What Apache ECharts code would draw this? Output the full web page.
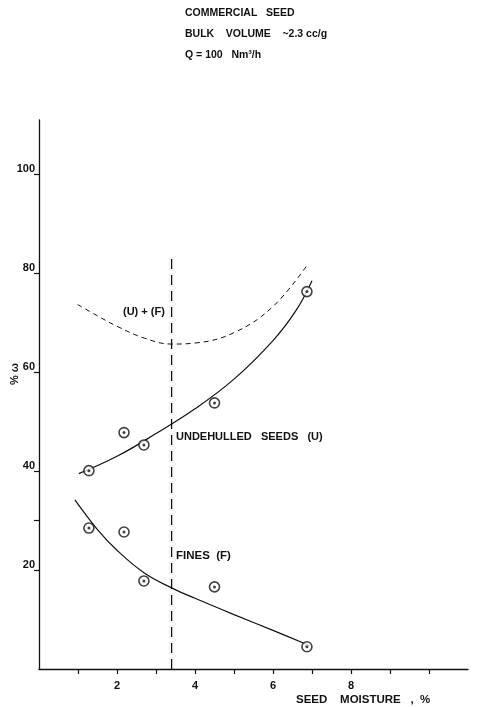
<!DOCTYPE html>
<html>
<head>
<meta charset="utf-8">
<script src="https://cdn.jsdelivr.net/npm/echarts@6/dist/echarts.min.js"></script>
<style>
  html, body { margin: 0; padding: 0; background: #fff; }
  #chart { width: 477px; height: 707px; }
</style>
</head>
<body>
<div id="chart"></div>
<script>
// ---- data ----
const titleLines = ['COMMERCIAL   SEED', 'BULK    VOLUME    ~2.3 cc/g', 'Q = 100   Nm³/h'];
const xLabelValues = [2, 4, 6, 8];
const xTickValues = [1, 2, 3, 4, 5, 6, 7, 8, 9, 10];
const yLabelValues = [20, 40, 60, 80, 100];
const yTickValues = [20, 30, 40, 60, 80, 100];

// measured points (seed moisture %, yield %)
const undehulledPoints = [[1.28, 40.1], [2.18, 47.8], [2.69, 45.3], [4.5, 53.8], [6.87, 76.3]];
const finesPoints = [[1.28, 28.5], [2.18, 27.7], [2.69, 17.8], [4.5, 16.6], [6.87, 4.5]];

// fitted curves
const undehulledCurve = [[1.02, 39.5], [2.0, 43.0], [3.0, 47.6], [4.0, 52.6], [5.0, 58.6], [6.0, 66.4], [6.6, 72.6], [7.0, 78.5]];
const finesCurve = [[0.92, 34.2], [1.5, 28.2], [2.0, 24.0], [2.7, 19.4], [3.4, 16.4], [4.0, 14.3], [5.0, 11.0], [6.0, 7.8], [6.95, 4.7]];
const sumCurve = [[0.99, 73.7], [1.5, 71.4], [2.0, 69.3], [2.7, 66.9], [3.4, 65.7], [4.0, 65.9], [5.0, 68.0], [6.0, 73.3], [6.87, 81.6]];
const optimumLine = [[3.4, 0], [3.4, 84]];

const ink = '#111';
const font = '"Liberation Sans", Arial, sans-serif';

const chart = echarts.init(document.getElementById('chart'), null, { renderer: 'canvas' });

const option = {
  backgroundColor: '#fff',
  animation: false,
  grid: { left: 39, right: 9, top: 120, bottom: 38, containLabel: false, outerBoundsMode: 'none' },
  xAxis: {
    type: 'value', min: 0, max: 11,
    axisLine: { show: true, onZero: false, lineStyle: { color: ink, width: 1.3 } },
    axisTick: { show: true, inside: false, length: 5, customValues: xTickValues, lineStyle: { color: ink, width: 1.2 } },
    axisLabel: { customValues: xLabelValues, color: ink, fontFamily: font, fontWeight: 'bold', fontSize: 11, margin: 11 },
    splitLine: { show: false }
  },
  yAxis: {
    type: 'value', min: 0, max: 111,
    axisLine: { show: true, onZero: false, lineStyle: { color: ink, width: 1.3 } },
    axisTick: { show: true, inside: false, length: 5, customValues: yTickValues, lineStyle: { color: ink, width: 1.2 } },
    axisLabel: { customValues: yLabelValues, color: ink, fontFamily: font, fontWeight: 'bold', fontSize: 11, margin: 4, verticalAlign: 'bottom' },
    splitLine: { show: false }
  },
  graphic: [
    { type: 'text', left: 185, top: 3, style: { text: titleLines.join('\n'), fill: ink, font: 'bold 10.5px ' + font, lineHeight: 21 } },
    { type: 'text', x: 15, y: 374, rotation: Math.PI / 2, style: { text: '% ω', fill: ink, font: 'bold 11px ' + font, align: 'center', verticalAlign: 'middle' } },
    { type: 'text', left: 123, top: 306, style: { text: '(U) + (F)', fill: ink, font: 'bold 11px ' + font } },
    { type: 'text', left: 176, top: 431, style: { text: 'UNDEHULLED   SEEDS   (U)', fill: ink, font: 'bold 11px ' + font } },
    { type: 'text', left: 176, top: 550, style: { text: 'FINES  (F)', fill: ink, font: 'bold 11.5px ' + font } },
    { type: 'text', left: 296, top: 694, style: { text: 'SEED    MOISTURE   ,  %', fill: ink, font: 'bold 11.5px ' + font } }
  ],
  series: [
    {
      name: 'optimum', type: 'line', data: optimumLine, symbol: 'none', silent: true,
      lineStyle: { color: ink, width: 1.3, type: [10, 6] }
    },
    {
      name: '(U) + (F)', type: 'line', data: sumCurve, smooth: 0.4, symbol: 'none',
      lineStyle: { color: ink, width: 1, type: [5, 4] }
    },
    {
      name: 'UNDEHULLED SEEDS (U)', type: 'line', data: undehulledCurve, smooth: 0.4, symbol: 'none',
      lineStyle: { color: ink, width: 1.2 }
    },
    {
      name: 'FINES (F)', type: 'line', data: finesCurve, smooth: 0.4, symbol: 'none',
      lineStyle: { color: ink, width: 1.2 }
    },
    {
      name: 'U points', type: 'scatter', data: undehulledPoints, symbol: 'circle', symbolSize: 10,
      itemStyle: { color: '#fff', borderColor: ink, borderWidth: 1.6 }, z: 5
    },
    {
      name: 'F points', type: 'scatter', data: finesPoints, symbol: 'circle', symbolSize: 10,
      itemStyle: { color: '#fff', borderColor: ink, borderWidth: 1.6 }, z: 5
    },
    {
      name: 'U dots', type: 'scatter', data: undehulledPoints, symbol: 'circle', symbolSize: 3,
      itemStyle: { color: ink }, z: 6
    },
    {
      name: 'F dots', type: 'scatter', data: finesPoints, symbol: 'circle', symbolSize: 3,
      itemStyle: { color: ink }, z: 6
    }
  ]
};
chart.setOption(option);
</script>
</body>
</html>
